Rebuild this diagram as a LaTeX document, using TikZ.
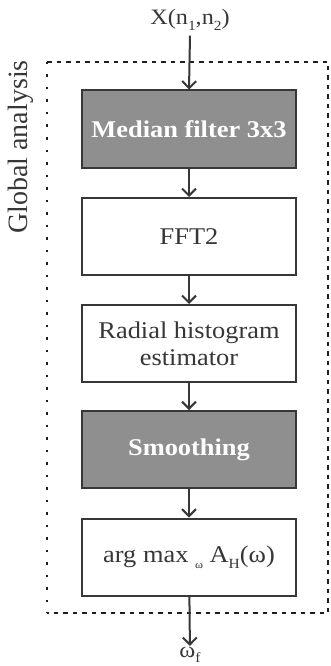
\documentclass[tikz,border=0pt]{standalone}
\usepackage{fontspec}
\setmainfont{Liberation Serif}[FakeStretch=1.1]
\newfontfamily\lblfont{Liberation Serif}
\usetikzlibrary{arrows.meta}
\definecolor{boxgray}{RGB}{143,143,143}
\definecolor{ink}{RGB}{55,55,55}
\definecolor{frameink}{RGB}{30,30,30}
\newcommand\lowsub[2][14]{\raisebox{-0.25em}{\fontsize{#1}{#1}\selectfont #2}}
\begin{document}
\begin{tikzpicture}[x=1pt,y=-1pt,
  stepbox/.style={draw=ink, line width=2pt, minimum width=214pt, minimum height=77pt,
    inner sep=0pt, font=\fontsize{24}{27}\selectfont, text=ink, align=center, fill=white},
  darkbox/.style={stepbox, fill=boxgray, text=white, font=\fontsize{24}{27}\selectfont\bfseries},
  flow/.style={draw=ink, line width=2pt, -{Straight Barb[length=7pt,width=14pt]}},
  frame/.style={draw=frameink, line width=2pt, dash pattern=on 4.5pt off 5pt},
  framedots/.style={draw=frameink, line width=2.2pt, dash pattern=on 2.5pt off 10pt},
  iolabel/.style={text=ink, font=\fontsize{22}{24}\selectfont, inner sep=1pt}
]
\useasboundingbox (0,0) rectangle (331,666);

% frame
\coordinate (fTL) at (47,62);
\coordinate (fTR) at (328,62);
\coordinate (fBR) at (328,613);
\coordinate (fBL) at (47,613);
\draw[frame] (fTL) -- (fTR) -- (fBR) -- (fBL);
\draw[framedots] (fTL) -- (fBL);
\node[rotate=90, text=ink, font=\lblfont\fontsize{28}{30}\selectfont, inner sep=0pt] (ga) at (21,147) {Global analysis};

% blocks
\node[darkbox] (med) at (189,129) {Median filter 3x3};
\node[stepbox] (fft) at (189,236.5) {FFT2};
\node[stepbox] (rad) at (189,343.5) {Radial histogram\\estimator};
\node[darkbox] (smo) at (189,449.5) {Smoothing};
\node[stepbox] (arg) at (189,557) {arg max \lowsub[11]{ω} A\lowsub{H}(ω)};

% input / output
\node[iolabel] (x) at (190,20) {X(n\lowsub{1},n\lowsub{2})};
\node[iolabel] (wf) at (190,655) {ω\lowsub{f}};

% connectors
\draw[flow] ([yshift=-4pt]x.south) -- (med.north);
\draw[flow] (med) -- (fft);
\draw[flow] (fft) -- (rad);
\draw[flow] (rad) -- (smo);
\draw[flow] (smo) -- (arg);
\draw[flow] (arg) -- (wf);
\end{tikzpicture}
\end{document}
